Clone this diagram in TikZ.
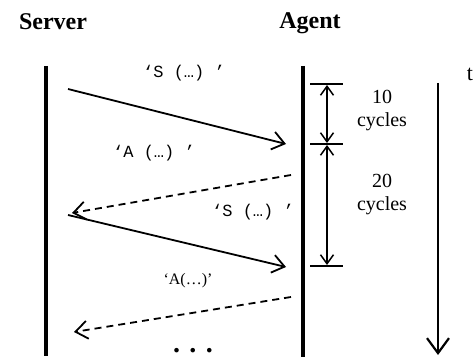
\documentclass[tikz,border=0pt]{standalone}
\usepackage{fontspec}
\setmainfont{Liberation Serif}
\newfontfamily\monof{Liberation Mono}
\usetikzlibrary{arrows.meta}
\begin{document}
\begin{tikzpicture}[x=1pt,y=-1pt,
  life/.style={line width=4.5pt},
  msg/.style={line width=1.8pt,-{Straight Barb[length=12pt,width=18pt,line width=1.8pt]}},
  reply/.style={msg,dash pattern=on 7pt off 5pt},
  tickmark/.style={line width=1.8pt},
  span/.style={line width=1.5pt,{Straight Barb[length=9pt,width=13pt,line width=1.5pt]}-{Straight Barb[length=9pt,width=13pt,line width=1.5pt]}},
  timeax/.style={line width=2.2pt,-{Straight Barb[length=15pt,width=22pt,line width=2.2pt]}},
  head/.style={font=\fontsize{24}{24}\selectfont\bfseries,inner sep=0pt,anchor=base},
  mlab/.style={font=\fontsize{17}{17}\selectfont\monof,inner sep=0pt},
  slab/.style={font=\fontsize{16}{16}\selectfont,inner sep=0pt},
  cyc/.style={font=\fontsize{20}{23}\selectfont,inner sep=0pt,align=center},
]
\useasboundingbox (0,0) rectangle (476,358);
% headers
\node[head] (server) at (53,30) {Server};
\node[head] (agent) at (310,29) {Agent};
\node[font=\fontsize{22}{22}\selectfont,inner sep=0pt] (t) at (470,74) {t};
% lifelines
\coordinate (stop) at (46,66);
\coordinate (sbot) at (46,356);
\coordinate (atop) at (303,66);
\coordinate (abot) at (303,357);
\draw[life] (stop) -- (sbot);
\draw[life] (atop) -- (abot);
% messages
\coordinate (m1a) at (68,89);  \coordinate (m1b) at (286,144);
\coordinate (m2a) at (291,175); \coordinate (m2b) at (72,213);
\coordinate (m3a) at (68,215); \coordinate (m3b) at (286,267);
\coordinate (m4a) at (291,297); \coordinate (m4b) at (74,332);
\draw[msg] (m1a) -- (m1b);
\draw[reply] (m2a) -- (m2b);
\draw[msg] (m3a) -- (m3b);
\draw[reply] (m4a) -- (m4b);
\node[mlab] (l1) at (184,73) {‘S (…) ’};
\node[mlab] (l2) at (154,153) {‘A (…) ’};
\node[mlab] (l3) at (253,212) {‘S (…) ’};
\node[slab] (l4) at (188,281) {‘A(…)’};
\node[font=\fontsize{28}{28}\selectfont\bfseries,inner sep=0pt,anchor=base] (dots) at (193,352) {. . .};
% ticks
\coordinate (k1a) at (310,84);  \coordinate (k1b) at (343,84);
\coordinate (k2a) at (310,144); \coordinate (k2b) at (343,144);
\coordinate (k3a) at (310,266); \coordinate (k3b) at (343,266);
\draw[tickmark] (k1a) -- (k1b);
\draw[tickmark] (k2a) -- (k2b);
\draw[tickmark] (k3a) -- (k3b);
\coordinate (d1a) at (327,85);  \coordinate (d1b) at (327,143);
\coordinate (d2a) at (327,145); \coordinate (d2b) at (327,265);
\draw[span] (d1a) -- (d1b);
\draw[span] (d2a) -- (d2b);
\node[cyc] (c10) at (382,111) {10\\cycles};
\node[cyc] (c20) at (382,195) {20\\cycles};
% time axis
\coordinate (ttop) at (438,83);
\coordinate (tbot) at (438,355);
\draw[timeax] (ttop) -- (tbot);
\end{tikzpicture}
\end{document}
